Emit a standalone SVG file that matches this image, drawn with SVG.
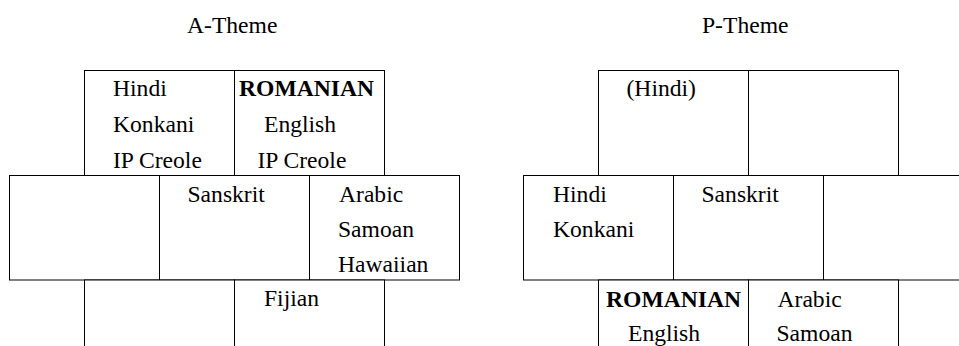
<svg xmlns="http://www.w3.org/2000/svg" width="959" height="346" viewBox="0 0 959 346" font-family="'Liberation Serif', 'DejaVu Serif', serif">
<style>
.c{fill:#fff;stroke:#000;stroke-width:1}
text{font-family:'Liberation Serif','DejaVu Serif',serif;font-size:23.6px;fill:#000}
.b{font-weight:bold}
</style>
<rect x="0" y="0" width="959" height="346" fill="#fff"/>
<text x="187" y="33">A-Theme</text>
<text x="702" y="33">P-Theme</text>
<g id="a-theme">
<g id="a-r1c1"><rect class="c" x="84.5" y="70.5" width="150" height="105"/><text x="113" y="96">Hindi</text><text x="113" y="132">Konkani</text><text x="113" y="168">IP Creole</text></g>
<g id="a-r1c2"><rect class="c" x="234.5" y="70.5" width="150" height="105"/><text class="b" x="239" y="96">ROMANIAN</text><text x="264" y="132">English</text><text x="257.5" y="168">IP Creole</text></g>
<g id="a-r2c1"><rect class="c" x="9.5" y="175.5" width="150" height="104.5"/></g>
<g id="a-r2c2"><rect class="c" x="159.5" y="175.5" width="150" height="104.5"/><text x="187.5" y="201.5">Sanskrit</text></g>
<g id="a-r2c3"><rect class="c" x="309.5" y="175.5" width="150" height="104.5"/><text x="339" y="201.5">Arabic</text><text x="338" y="237">Samoan</text><text x="338" y="272">Hawaiian</text></g>
<g id="a-r3c1"><rect class="c" x="84.5" y="280" width="150" height="105"/></g>
<g id="a-r3c2"><rect class="c" x="234.5" y="280" width="150" height="105"/><text x="264" y="306">Fijian</text></g>
</g>
<g id="p-theme">
<g id="p-r1c1"><rect class="c" x="598.5" y="70.5" width="150" height="105"/><text x="626.5" y="96">(Hindi)</text></g>
<g id="p-r1c2"><rect class="c" x="748.5" y="70.5" width="150" height="105"/></g>
<g id="p-r2c1"><rect class="c" x="523.5" y="175.5" width="150" height="104.5"/><text x="553" y="201.5">Hindi</text><text x="553" y="237">Konkani</text></g>
<g id="p-r2c2"><rect class="c" x="673.5" y="175.5" width="150" height="104.5"/><text x="701.5" y="201.5">Sanskrit</text></g>
<g id="p-r2c3"><rect class="c" x="823.5" y="175.5" width="150" height="104.5"/></g>
<g id="p-r3c1"><rect class="c" x="598.5" y="280" width="150" height="105"/><text class="b" x="606" y="306.5">ROMANIAN</text><text x="628" y="341">English</text></g>
<g id="p-r3c2"><rect class="c" x="748.5" y="280" width="150" height="105"/><text x="777.5" y="306.5">Arabic</text><text x="776.5" y="341">Samoan</text></g>
</g>
<g id="connectors"/>
</svg>
